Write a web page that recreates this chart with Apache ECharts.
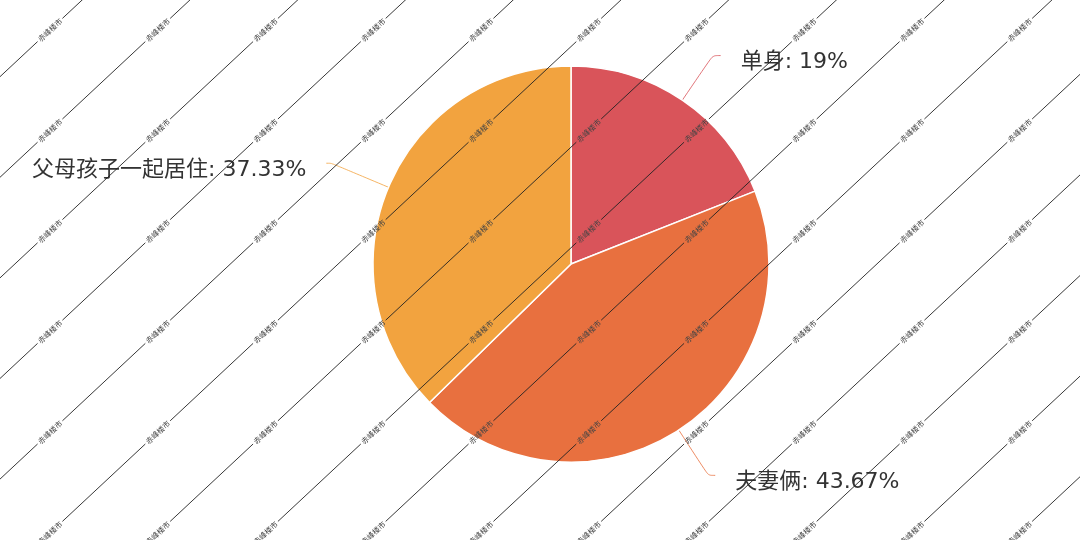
<!DOCTYPE html>
<html>
<head>
<meta charset="utf-8">
<script src="https://cdn.jsdelivr.net/npm/echarts@6/dist/echarts.min.js"></script>
<style>
html,body{margin:0;padding:0;background:#fff;}
#main{width:1080px;height:540px;}
</style>
</head>
<body>
<div id="main"></div>
<script>
// ---- data ----
const categories = ['单身', '夫妻俩', '父母孩子一起居住'];
const values = [19, 43.67, 37.33];
const colors = ['#d9545a', '#e8703f', '#f2a33f'];
const watermarkText = '赤峰楼市';

// per-slice label line lengths (styling)
const lineLen = [[54, 8], [54, 7], [62, 5]];

const chart = echarts.init(document.getElementById('main'), null, {renderer: 'canvas'});

// ---- watermark (decorative tiled diagonal lines with text) ----
const tileW = 107.75, tileH = 100.6, ox = 50, oy = 30;
const diag = Math.sqrt(tileW * tileW + tileH * tileH);
const ux = tileW / diag, uy = -tileH / diag;
const ang = Math.atan2(tileH, tileW);
const gap = 17;
const wm = [];
for (let i = -2; i <= 12; i++) {
  for (let j = -2; j <= 7; j++) {
    const px = ox + i * tileW, py = oy + j * tileH;
    wm.push({
      type: 'line', silent: true, z: 100,
      shape: {x1: px + ux * gap, y1: py + uy * gap, x2: px + ux * (diag - gap), y2: py + uy * (diag - gap)},
      style: {stroke: '#222', lineWidth: 1, opacity: 0.9}
    });
    wm.push({
      type: 'text', silent: true, z: 101,
      x: px, y: py, rotation: ang,
      style: {text: watermarkText, fontSize: 7.5, fill: '#444', align: 'center', verticalAlign: 'middle',
              fontFamily: 'Noto Sans CJK SC'}
    });
  }
}

const labelFont = 'DejaVu Sans, Noto Sans CJK SC, sans-serif';

const option = {
  backgroundColor: '#ffffff',
  animation: false,
  color: colors,
  graphic: wm,
  series: [{
    type: 'pie',
    center: [571, 264],
    radius: 198,
    startAngle: 90,
    clockwise: true,
    avoidLabelOverlap: false,
    itemStyle: {borderColor: '#ffffff', borderWidth: 1.5},
    label: {
      show: true,
      position: 'outside',
      formatter: '{s| }\n{t|{b}: {c}%}',
      distanceToLabelLine: 20,
      rich: {
        s: {fontSize: 10, lineHeight: 14},
        t: {fontSize: 22, lineHeight: 26, color: '#333', fontFamily: labelFont}
      }
    },
    labelLine: {show: true, smooth: 0.3, lineStyle: {width: 1, opacity: 0.8}},
    data: categories.map((c, k) => ({
      name: c,
      value: values[k],
      labelLine: {length: lineLen[k][0], length2: lineLen[k][1]}
    }))
  }]
};
chart.setOption(option);
</script>
</body>
</html>
